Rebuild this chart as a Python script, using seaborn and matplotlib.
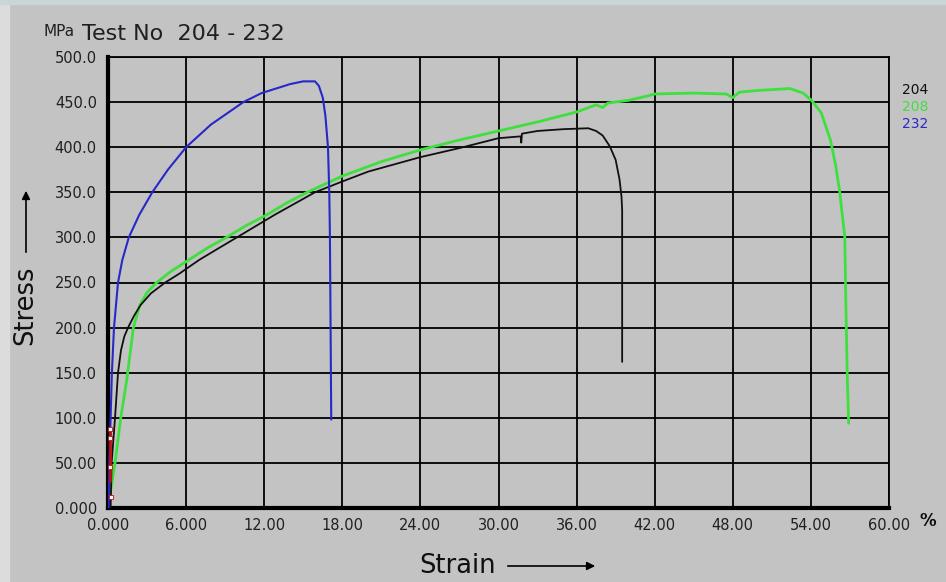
import numpy as np
import pandas as pd
import matplotlib
matplotlib.use("Agg")
import matplotlib.pyplot as plt
import seaborn as sns
from matplotlib.patches import Rectangle, FancyArrowPatch

# ---------------- data ----------------
s204_strain = [0.2, 0.28, 0.54, 0.77, 1.0, 1.25, 1.54, 2.0, 2.5, 3.3, 4.4, 5.5, 7.0,
               8.5, 9.9, 12.8, 15.9, 18.0, 20.0, 22.0, 24.0, 27.0, 30.0, 31.7,
               31.75, 31.8, 33.0, 35.0, 36.9, 37.5, 38.0, 38.55, 39.0, 39.3, 39.45,
               39.5, 39.5]
s204_stress = [0, 50, 100, 150, 175, 190, 200, 213, 225, 238, 250, 260, 275,
               288, 300, 325, 350, 362, 373, 381, 389, 399, 410, 412,
               405, 415, 418, 420, 421, 418, 413, 401, 386, 364, 345,
               330, 162]

s208_strain = [0.15, 0.54, 0.98, 1.44, 1.95, 2.45, 3.0, 3.74, 4.8, 6.2, 7.6, 9.1, 10.6,
               12.2, 13.7, 15.3, 18.0, 21.0, 24.0, 27.0, 30.0, 33.0, 36.0, 37.5,
               38.0, 38.4, 40.0, 41.5, 42.0, 45.0, 47.5, 48.0, 48.5, 50.0, 52.4,
               53.4, 54.05, 54.8, 55.5, 55.9, 56.2, 56.6, 56.7, 56.8, 56.9]
s208_stress = [14, 50, 100, 142, 200, 225, 239, 250, 262, 275, 288, 300, 313,
               325, 338, 350, 368, 384, 397, 408, 418, 428, 439, 447,
               444, 449, 452, 457, 459, 460, 459, 455, 461, 463, 465,
               460, 452, 438, 408, 380, 352, 301, 216, 142, 94]

s232_strain = [0.05, 0.1, 0.2, 0.3, 0.46, 0.77, 1.1, 1.6, 2.4, 3.4, 4.6, 6.0, 7.9,
               10.4, 11.8, 14.0, 15.0, 15.9, 16.2, 16.5, 16.7, 16.9, 17.0, 17.05,
               17.1, 17.15]
s232_stress = [0, 50, 100, 150, 200, 250, 275, 300, 325, 350, 375, 400, 425,
               450, 460, 470, 473, 473, 468, 455, 435, 400, 350, 300,
               200, 98]

marker_strain = [0.15, 0.15, 0.15, 0.2]
marker_stress = [88, 78, 45, 12]
red_strain = [0.15, 0.15]
red_stress = [30, 88]

tests = ["204", "208", "232"]
colors = {"204": "#101010", "208": "#3ee03e", "232": "#2828c8"}

x_ticks = [0, 6, 12, 18, 24, 30, 36, 42, 48, 54, 60]
x_labels = ["0.000", "6.000", "12.00", "18.00", "24.00", "30.00", "36.00",
            "42.00", "48.00", "54.00", "60.00"]
y_ticks = [0, 50, 100, 150, 200, 250, 300, 350, 400, 450, 500]
y_labels = ["0.000", "50.00", "100.0", "150.0", "200.0", "250.0", "300.0",
            "350.0", "400.0", "450.0", "500.0"]

# ---------------- frame ----------------
frames = []
for name, xs, ys in [("204", s204_strain, s204_stress),
                     ("208", s208_strain, s208_stress),
                     ("232", s232_strain, s232_stress)]:
    frames.append(pd.DataFrame({"strain": xs, "stress": ys, "test": name}))
df = pd.concat(frames, ignore_index=True)

sns.set_theme(style="white")
plt.rcParams['font.family'] = ['DejaVu Sans']

BG = "#c3c3c3"
W, H = 946, 582
fig = plt.figure(figsize=(W / 100, H / 100), dpi=100, facecolor=BG)
fig.patches.append(Rectangle((0, 0), 9 / W, 1, transform=fig.transFigure,
                             color="#dcdcdc", zorder=0))
fig.patches.append(Rectangle((0, 1 - 4 / H), 1, 4 / H, transform=fig.transFigure,
                             color="#c8d6d8", zorder=0))

ax = fig.add_axes([108 / W, 1 - 508 / H, 781 / W, 451 / H])
ax.set_facecolor(BG)

lw = {"204": 1.3, "208": 2.0, "232": 1.5}
for name in ["208", "204", "232"]:
    sub = df[df["test"] == name]
    sns.lineplot(data=sub, x="strain", y="stress", color=colors[name],
                 sort=False, estimator=None, lw=lw[name], ax=ax, zorder=3)

sns.lineplot(x=red_strain, y=red_stress, color="#c01010", lw=2, ax=ax,
             sort=False, estimator=None, zorder=4)
sns.scatterplot(x=marker_strain, y=marker_stress, marker="s", s=8,
                facecolor="white", edgecolor="#c01010", linewidth=0.6, ax=ax, zorder=5)

ax.set_xlim(0, 60)
ax.set_ylim(0, 500)
ax.set_xticks(x_ticks)
ax.set_xticklabels(x_labels)
ax.set_yticks(y_ticks)
ax.set_yticklabels(y_labels)
ax.tick_params(axis="both", length=0, labelsize=10.5, colors="#202020")
ax.tick_params(axis="y", pad=8)
ax.tick_params(axis="x", pad=7)
ax.set_xlabel("")
ax.set_ylabel("")
ax.set_axisbelow(True)
ax.grid(True, color="black", lw=1.3)
for side in ["left", "bottom"]:
    ax.spines[side].set_linewidth(3)
    ax.spines[side].set_color("black")
for side in ["top", "right"]:
    ax.spines[side].set_linewidth(1.3)
    ax.spines[side].set_color("black")
    ax.spines[side].set_visible(True)

# legend on the right
for i, name in enumerate(tests):
    fig.text(928 / W, 1 - (90 + 17 * i) / H, name, color=colors[name],
             fontsize=10, ha="right", va="center")

# title
fig.text(43 / W, 1 - 36 / H, "MPa", fontsize=11, ha="left", va="baseline", color="#202020")
fig.text(82 / W, 1 - 40 / H, "Test No  204 - 232", fontsize=16, ha="left",
         va="baseline", color="#202020")

# axis labels with arrows
fig.text(25 / W, 1 - 305 / H, "Stress", fontsize=18.5, rotation=90,
         ha="center", va="center", color="#101010")
fig.patches.append(FancyArrowPatch(
    (26 / W, 1 - 255 / H), (26 / W, 1 - 188 / H), transform=fig.transFigure,
    arrowstyle="-|>", mutation_scale=12, lw=1.2, color="black"))
fig.text(458 / W, 1 - 566 / H, "Strain", fontsize=18.5,
         ha="center", va="center", color="#101010")
fig.patches.append(FancyArrowPatch(
    (505 / W, 1 - 566 / H), (598 / W, 1 - 566 / H), transform=fig.transFigure,
    arrowstyle="-|>", mutation_scale=12, lw=1.2, color="black"))
fig.text(928 / W, 1 - 521 / H, "%", fontsize=12, fontweight="bold",
         ha="center", va="center", color="#101010")

fig.savefig("out.png", dpi=100, facecolor=BG)
